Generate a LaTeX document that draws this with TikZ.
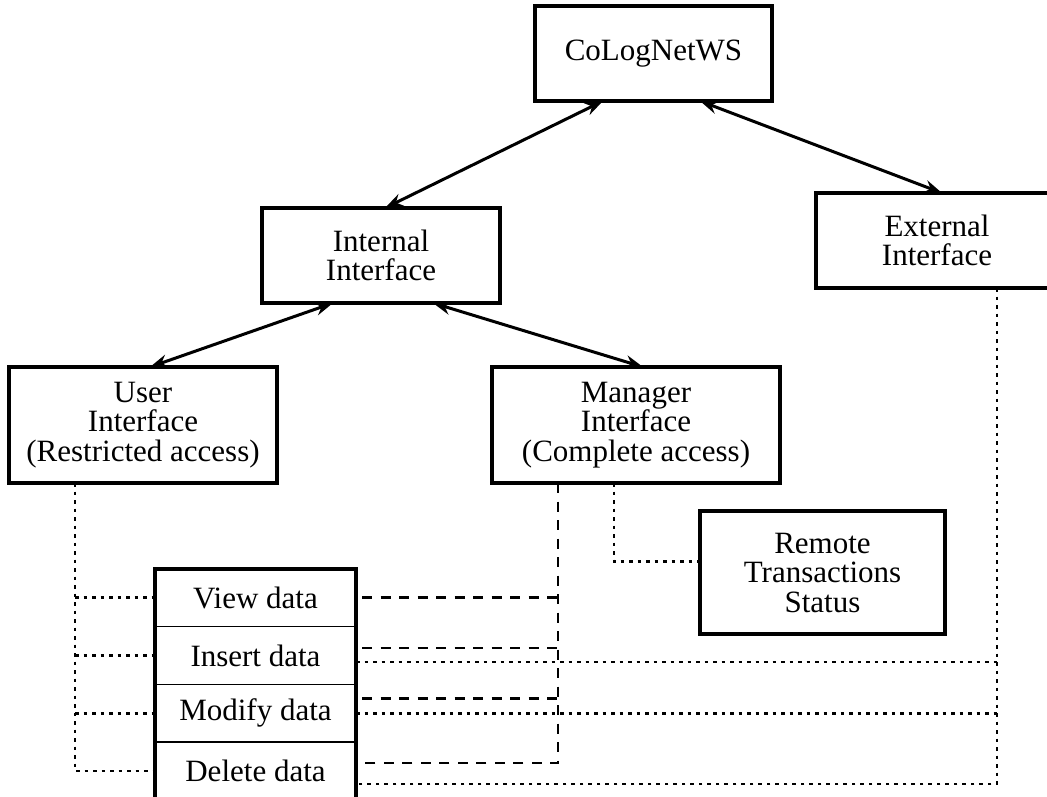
\documentclass[tikz,border=0pt]{standalone}
\usepackage{fontspec}
\setmainfont{Liberation Serif}
\usetikzlibrary{arrows.meta,calc}
\begin{document}
\begin{tikzpicture}[x=1pt,y=-1pt,
  every node/.style={font=\fontsize{31}{29.5}\selectfont, align=center, inner sep=0pt, outer sep=0pt},
  box/.style={draw, line width=3.2pt, rectangle},
  rowbox/.style={draw, line width=1.2pt, rectangle, minimum width=201pt, minimum height=57.7pt},
  biarrow/.style={{Stealth[length=18pt,width=13pt]}-{Stealth[length=18pt,width=13pt]}, line width=3pt},
  dotline/.style={line width=2.8pt, dash pattern=on 3.5pt off 5pt},
  dashline/.style={line width=2.8pt, dash pattern=on 10pt off 8.5pt}]
\useasboundingbox (0,0) rectangle (1047,796);
\clip (0,0) rectangle (1047,796);

% main boxes
\node[box, minimum width=237pt, minimum height=95pt] (colog) at (653.5,53.5) {CoLogNetWS};
\node[box, minimum width=238pt, minimum height=95pt] (internal) at (381,255.5) {Internal\\Interface};
\node[box, minimum width=242pt, minimum height=95pt] (external) at (937,240.5) {External\\Interface};
\node[box, minimum width=268pt, minimum height=116pt] (user) at (143,425) {User\\Interface\\(Restricted access)};
\node[box, minimum width=288pt, minimum height=116pt] (manager) at (636,425) {Manager\\Interface\\(Complete access)};
\node[box, minimum width=245pt, minimum height=123pt] (remote) at (822.5,572.5) {Remote\\Transactions\\Status};

% data rows
\node[rowbox] (view) at (255.5,597.8) {View data};
\node[rowbox] (insert) at (255.5,655.5) {Insert data};
\node[rowbox] (modify) at (255.5,713.2) {Modify data};
\node[rowbox] (delete) at (255.5,770.9) {Delete data};
\draw[line width=3.2pt] (view.north west) rectangle (delete.south east);

% arrows
\draw[biarrow] ([xshift=68pt]colog.south west) -- ([xshift=4pt]internal.north);
\draw[biarrow] ([xshift=-72pt]colog.south east) -- ([xshift=126pt]external.north west);
\draw[biarrow] ([xshift=71pt]internal.south west) -- ([xshift=7pt]user.north);
\draw[biarrow] ([xshift=-67pt]internal.south east) -- ([xshift=7pt]manager.north);

% user interface dotted links
\coordinate (uline) at ([xshift=66pt]user.south west);
\draw[dotline] (uline) |- (delete.west);
\draw[dotline] (uline |- view.west) -- (view.west);
\draw[dotline] (uline |- insert.west) -- (insert.west);
\draw[dotline] (uline |- modify.west) -- (modify.west);

% manager interface dashed links
\coordinate (mline) at ([xshift=66pt]manager.south west);
\coordinate (vd) at ([xshift=6pt]view.east);
\coordinate (id) at ([xshift=6pt,yshift=7.5pt]insert.east);
\coordinate (md) at ([xshift=6pt,yshift=15pt]modify.east);
\coordinate (dd) at ([xshift=6pt,yshift=8pt]delete.east);
\draw[dashline] (mline) |- (dd);
\draw[dashline] (vd) -- (mline |- vd);
\draw[dashline] (id) -- (mline |- id);
\draw[dashline] (md) -- (mline |- md);

% manager to remote
\draw[dotline] ([xshift=122pt]manager.south west) |- ([yshift=11pt]remote.west);

% external interface dotted links
\coordinate (eline) at ([xshift=181pt]external.south west);
\coordinate (ie) at ([yshift=-6.5pt]insert.east);
\coordinate (de) at ([yshift=-13pt]delete.east);
\draw[dotline] (eline) |- (de);
\draw[dotline] (ie) -- (eline |- ie);
\draw[dotline] (modify.east) -- (eline |- modify.east);
\end{tikzpicture}
\end{document}
